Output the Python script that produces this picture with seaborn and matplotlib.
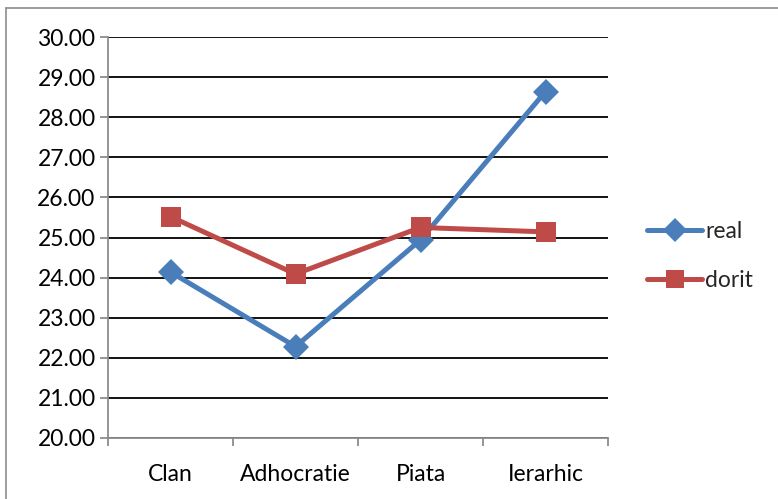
import matplotlib
matplotlib.use("Agg")
import matplotlib.pyplot as plt
from matplotlib.lines import Line2D
import seaborn as sns
import pandas as pd

categories = ["Clan", "Adhocratie", "Piata", "Ierarhic"]
real = [24.14, 22.28, 24.94, 28.64]
dorit = [25.52, 24.09, 25.25, 25.14]
series_names = ["real", "dorit"]
y_ticks = [20, 21, 22, 23, 24, 25, 26, 27, 28, 29, 30]

blue = "#4A7EBB"
red = "#BE4B48"

df = pd.DataFrame({
    "categorie": categories * 2,
    "valoare": real + dorit,
    "serie": ["real"] * len(real) + ["dorit"] * len(dorit),
})

sns.set_theme(style="white")
plt.rcParams["font.family"] = ["Lato", "DejaVu Sans"]

fig = plt.figure(figsize=(7.78, 4.99), dpi=100)
ax = fig.add_axes([108 / 778, 1 - 438 / 499, 500 / 778, 401 / 499])

lw = 3.6
sns.lineplot(
    data=df[df["serie"] == "real"], x="categorie", y="valoare",
    color=blue, marker="D", markersize=13, markeredgewidth=0,
    linewidth=lw, sort=False, legend=False, ax=ax, zorder=3,
)
sns.lineplot(
    data=df[df["serie"] == "dorit"], x="categorie", y="valoare",
    color=red, marker="s", markersize=14, markeredgewidth=0,
    linewidth=lw, sort=False, legend=False, ax=ax, zorder=3,
)

ax.set_xlim(-0.5, len(categories) - 0.5)
ax.set_ylim(20, 30)
ax.set_yticks(y_ticks)
ax.set_yticklabels([f"{v:.2f}" for v in y_ticks])
ax.set_xticks(range(len(categories)))
ax.set_xticklabels(categories)
ax.set_xticks([i - 0.5 for i in range(len(categories) + 1)], minor=True)
ax.set_xlabel("")
ax.set_ylabel("")

ax.grid(axis="y", color="black", linewidth=1.3)
ax.grid(axis="x", visible=False)
ax.set_axisbelow(True)
for side in ["top", "right"]:
    ax.spines[side].set_visible(False)
for side in ["left", "bottom"]:
    ax.spines[side].set_color("#8C8C8C")
    ax.spines[side].set_linewidth(1.3)

ax.tick_params(axis="y", which="major", left=True, length=6, width=1.3,
               color="#8C8C8C", labelsize=16.5, pad=3, labelcolor="black")
ax.tick_params(axis="x", which="major", bottom=False, labelsize=16.5, pad=13,
               labelcolor="black")
ax.tick_params(axis="x", which="minor", bottom=True, length=6, width=1.3,
               color="#8C8C8C")

handles = [
    Line2D([], [], color=blue, marker="D", linewidth=lw, markersize=12,
           markeredgewidth=0),
    Line2D([], [], color=red, marker="s", linewidth=lw, markersize=13,
           markeredgewidth=0),
]
fig.legend(handles, series_names, loc="center left",
           bbox_to_anchor=(647 / 778, 1 - 256 / 499), frameon=False,
           fontsize=16.5, handlelength=2.4, handletextpad=0.15,
           labelspacing=1.2, borderpad=0, borderaxespad=0)

# chart area border
fig.add_artist(Line2D([6 / 778, 6 / 778], [0, 1 - 8 / 499],
                      transform=fig.transFigure, color="#8C8C8C", linewidth=1.2))
fig.add_artist(Line2D([6 / 778, 1], [1 - 8 / 499, 1 - 8 / 499],
                      transform=fig.transFigure, color="#8C8C8C", linewidth=1.2))

fig.savefig("out.png", dpi=100)
